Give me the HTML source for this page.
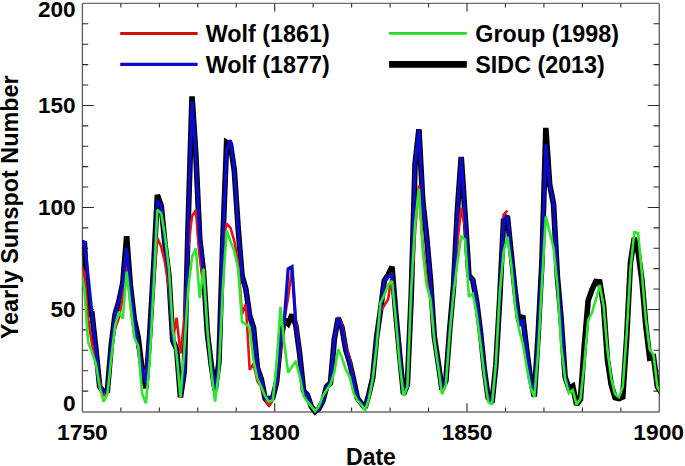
<!DOCTYPE html>
<html><head><meta charset="utf-8"><style>
html,body{margin:0;padding:0;background:#fff;}
svg{display:block;}
text{font-family:"Liberation Sans",sans-serif;font-weight:bold;fill:#000;}
</style></head><body>
<svg width="685" height="466" viewBox="0 0 685 466">
<rect width="685" height="466" fill="#fff"/>
<defs><clipPath id="c"><rect x="82.4" y="-20" width="576.90" height="500"/></clipPath></defs>
<path d="M82.4,412.0 H659.3 M82.4,3.4 H659.3" stroke="#6e6e6e" stroke-width="1.4" fill="none"/>
<path d="M82.4,3.4 V412.0 M659.3,3.4 V412.0" stroke="#5c5c5c" stroke-width="1.3" fill="none"/>
<path d="M120.86,411.50 V407.40 M120.86,3.40 V7.50 M159.32,411.50 V407.40 M159.32,3.40 V7.50 M197.78,411.50 V407.40 M197.78,3.40 V7.50 M236.24,411.50 V407.40 M236.24,3.40 V7.50 M274.70,411.50 V403.30 M274.70,3.40 V11.60 M313.16,411.50 V407.40 M313.16,3.40 V7.50 M351.62,411.50 V407.40 M351.62,3.40 V7.50 M390.08,411.50 V407.40 M390.08,3.40 V7.50 M428.54,411.50 V407.40 M428.54,3.40 V7.50 M467.00,411.50 V403.30 M467.00,3.40 V11.60 M505.46,411.50 V407.40 M505.46,3.40 V7.50 M543.92,411.50 V407.40 M543.92,3.40 V7.50 M582.38,411.50 V407.40 M582.38,3.40 V7.50 M620.84,411.50 V407.40 M620.84,3.40 V7.50 M82.40,391.10 H88.20 M659.30,391.10 H653.50 M82.40,370.69 H88.20 M659.30,370.69 H653.50 M82.40,350.28 H88.20 M659.30,350.28 H653.50 M82.40,329.88 H88.20 M659.30,329.88 H653.50 M82.40,309.48 H93.90 M659.30,309.48 H647.80 M82.40,289.07 H88.20 M659.30,289.07 H653.50 M82.40,268.66 H88.20 M659.30,268.66 H653.50 M82.40,248.26 H88.20 M659.30,248.26 H653.50 M82.40,227.85 H88.20 M659.30,227.85 H653.50 M82.40,207.45 H93.90 M659.30,207.45 H647.80 M82.40,187.04 H88.20 M659.30,187.04 H653.50 M82.40,166.64 H88.20 M659.30,166.64 H653.50 M82.40,146.24 H88.20 M659.30,146.24 H653.50 M82.40,125.83 H88.20 M659.30,125.83 H653.50 M82.40,105.43 H93.90 M659.30,105.43 H647.80 M82.40,85.02 H88.20 M659.30,85.02 H653.50 M82.40,64.62 H88.20 M659.30,64.62 H653.50 M82.40,44.21 H88.20 M659.30,44.21 H653.50 M82.40,23.81 H88.20 M659.30,23.81 H653.50" stroke="#2a2a2a" stroke-width="1.1" fill="none"/>
<g clip-path="url(#c)" fill="none" stroke-linejoin="miter" stroke-miterlimit="2">
<path d="M80.48,246.42 L84.32,241.32 L88.17,314.17 L92.02,313.96 L95.86,348.86 L99.71,386.61 L103.55,391.91 L107.40,390.69 L111.25,345.39 L115.09,314.37 L118.94,301.31 L122.78,283.15 L126.63,236.22 L130.48,286.62 L134.32,319.47 L138.17,337.23 L142.01,368.85 L145.86,388.24 L149.71,334.37 L153.55,269.07 L157.40,195.00 L161.24,205.82 L165.09,245.00 L168.94,275.81 L172.78,340.49 L176.63,349.06 L180.47,397.22 L184.32,371.10 L188.17,222.75 L192.01,96.45 L195.86,154.60 L199.70,238.47 L203.55,272.54 L207.40,332.94 L211.24,364.98 L215.09,390.69 L218.93,362.32 L222.78,242.34 L226.62,142.15 L230.47,144.40 L234.32,170.52 L238.16,228.06 L242.01,275.60 L245.86,289.07 L249.70,315.80 L253.55,327.84 L257.39,368.04 L261.24,378.85 L265.09,398.44 L268.93,403.13 L272.78,397.62 L276.62,381.91 L280.47,342.12 L284.31,319.68 L288.16,323.55 L292.01,314.58 L295.85,325.39 L299.70,354.16 L303.55,390.89 L307.39,394.97 L311.24,406.40 L315.08,411.50 L318.93,408.64 L322.77,401.30 L326.62,386.61 L330.47,383.14 L334.31,339.27 L338.16,318.05 L342.00,327.64 L345.85,350.08 L349.70,362.73 L353.54,379.67 L357.39,398.03 L361.24,403.34 L365.08,407.83 L368.93,394.16 L372.77,377.63 L376.62,337.43 L380.47,310.29 L384.31,280.50 L388.16,274.79 L392.00,266.83 L395.85,313.96 L399.70,355.39 L403.54,394.16 L407.39,384.57 L411.23,295.40 L415.08,163.58 L418.92,129.30 L422.77,200.92 L426.62,236.63 L430.46,279.68 L434.31,336.61 L438.15,362.12 L442.00,389.67 L445.85,380.89 L449.69,329.68 L453.54,286.01 L457.38,210.51 L461.23,157.05 L465.08,215.00 L468.92,275.60 L472.77,279.89 L476.62,301.11 L480.46,331.92 L484.31,369.47 L488.15,397.83 L492.00,402.73 L495.85,365.18 L499.69,299.68 L503.54,220.10 L507.38,216.02 L511.23,253.97 L515.08,290.91 L518.92,321.72 L522.77,315.60 L526.61,349.26 L530.46,378.24 L534.30,396.60 L538.15,334.78 L542.00,260.50 L545.84,127.87 L549.69,184.60 L553.53,204.19 L557.38,276.42 L561.23,320.29 L565.07,376.81 L568.92,388.44 L572.76,386.20 L576.61,404.56 L580.46,399.26 L584.30,345.59 L588.15,300.70 L592.00,289.68 L595.84,281.52 L599.69,281.93 L603.53,304.99 L607.38,359.67 L611.23,384.77 L615.07,397.62 L618.92,398.64 L622.76,397.01 L626.61,338.86 L630.45,262.54 L634.30,237.85 L638.15,252.34 L641.99,280.91 L645.84,326.21 L649.68,358.04 L653.53,357.02 L657.38,386.81 L661.22,392.12 L665.07,405.99" stroke="#000" stroke-width="5.6"/>
<path d="M80.48,264.58 L84.32,272.75 L88.17,319.68 L92.02,344.16 L95.86,360.49 L99.71,380.89 L103.55,395.99 L107.40,391.50 L111.25,349.26 L115.09,328.86 L118.94,317.64 L122.78,297.23 L126.63,262.54 L130.48,305.39 L134.32,336.00 L138.17,344.16 L142.01,368.65 L145.86,374.77 L149.71,336.00 L153.55,284.99 L157.40,238.06 L161.24,246.83 L165.09,262.95 L168.94,289.07 L172.78,340.08 L176.63,317.64 L180.47,353.55 L184.32,319.68 L188.17,248.26 L192.01,216.22 L195.86,209.90 L199.70,257.03 L203.55,284.99 L207.40,329.88 L211.24,366.61 L215.09,391.10 L218.93,362.53 L222.78,242.55 L226.62,223.57 L230.47,227.85 L234.32,241.12 L238.16,262.95 L242.01,314.17 L245.86,303.97 L249.70,369.67 L253.55,363.75 L257.39,381.30 L261.24,387.01 L265.09,398.85 L268.93,406.19 L272.78,398.85 L276.62,382.93 L280.47,350.28 L284.31,319.68 L288.16,297.23 L292.01,268.66 L295.85,319.68 L299.70,354.37 L303.55,391.10 L307.39,395.18 L311.24,406.40 L315.08,411.50 L318.93,408.64 L322.77,401.30 L326.62,387.01 L330.47,382.93 L334.31,340.08 L338.16,317.02 L342.00,324.37 L345.85,346.20 L349.70,358.45 L353.54,379.67 L357.39,398.03 L361.24,403.34 L365.08,407.83 L368.93,394.16 L372.77,377.63 L376.62,338.04 L380.47,311.52 L384.31,305.39 L388.16,299.27 L392.00,272.75 L395.85,313.96 L399.70,355.39 L403.54,394.16 L407.39,384.57 L411.23,295.40 L415.08,231.94 L418.92,185.41 L422.77,245.40 L426.62,278.87 L430.46,299.27 L434.31,336.61 L438.15,362.12 L442.00,389.67 L445.85,380.89 L449.69,329.68 L453.54,286.01 L457.38,242.55 L461.23,207.65 L465.08,227.85 L468.92,276.83 L472.77,279.89 L476.62,301.11 L480.46,331.92 L484.31,369.47 L488.15,397.83 L492.00,402.73 L495.85,365.18 L499.69,299.68 L503.54,214.80 L507.38,210.71" stroke="#e41414" stroke-width="2.6"/>
<path d="M80.48,246.42 L84.32,241.32 L88.17,276.83 L92.02,313.96 L95.86,348.86 L99.71,386.61 L103.55,391.91 L107.40,390.69 L111.25,345.39 L115.09,314.37 L118.94,301.31 L122.78,283.15 L126.63,248.26 L130.48,286.62 L134.32,319.47 L138.17,348.24 L142.01,368.65 L145.86,382.93 L149.71,334.37 L153.55,269.07 L157.40,200.31 L161.24,205.82 L165.09,245.00 L168.94,275.81 L172.78,340.49 L176.63,349.06 L180.47,397.22 L184.32,371.10 L188.17,222.75 L192.01,101.34 L195.86,154.60 L199.70,238.47 L203.55,272.54 L207.40,332.94 L211.24,364.98 L215.09,390.69 L218.93,362.32 L222.78,242.34 L226.62,150.32 L230.47,140.11 L234.32,170.52 L238.16,228.06 L242.01,275.60 L245.86,289.07 L249.70,315.80 L253.55,327.84 L257.39,368.04 L261.24,378.85 L265.09,398.44 L268.93,397.22 L272.78,397.62 L276.62,381.91 L280.47,342.12 L284.31,319.68 L288.16,268.66 L292.01,266.62 L295.85,325.39 L299.70,354.16 L303.55,390.89 L307.39,394.97 L311.24,406.40 L315.08,411.50 L318.93,408.64 L322.77,401.30 L326.62,386.61 L330.47,383.14 L334.31,339.27 L338.16,318.05 L342.00,327.64 L345.85,350.08 L349.70,362.73 L353.54,379.67 L357.39,398.03 L361.24,403.34 L365.08,407.83 L368.93,394.16 L372.77,377.63 L376.62,337.43 L380.47,310.29 L384.31,280.50 L388.16,276.83 L392.00,274.79 L395.85,313.96 L399.70,355.39 L403.54,394.16 L407.39,384.57 L411.23,295.40 L415.08,163.58 L418.92,129.30 L422.77,200.92 L426.62,236.63 L430.46,279.68 L434.31,336.61 L438.15,362.12 L442.00,389.67 L445.85,380.89 L449.69,329.68 L453.54,286.01 L457.38,210.51 L461.23,157.05 L465.08,215.00 L468.92,275.60 L472.77,279.89 L476.62,301.11 L480.46,331.92 L484.31,369.47 L488.15,397.83 L492.00,402.73 L495.85,365.18 L499.69,299.68 L503.54,220.10 L507.38,216.02 L511.23,253.97 L515.08,290.91 L518.92,325.80 L522.77,319.68 L526.61,349.26 L530.46,378.24 L534.30,396.60 L538.15,334.78 L542.00,260.50 L545.84,144.19 L549.69,184.60 L553.53,204.19 L557.38,276.42 L561.23,320.29 L565.07,376.81 L568.92,388.44" stroke="#0a0ad0" stroke-width="3.2"/>
<path d="M80.48,268.66 L84.32,289.07 L88.17,342.12 L92.02,352.33 L95.86,363.75 L99.71,387.01 L103.55,401.71 L107.40,394.36 L111.25,358.45 L115.09,325.80 L118.94,311.52 L122.78,318.66 L126.63,271.73 L130.48,305.39 L134.32,337.43 L138.17,346.20 L142.01,393.14 L145.86,403.34 L149.71,360.90 L153.55,287.85 L157.40,209.69 L161.24,213.37 L165.09,236.63 L168.94,268.66 L172.78,329.88 L176.63,354.98 L180.47,397.22 L184.32,349.26 L188.17,289.07 L192.01,257.03 L195.86,248.26 L199.70,298.05 L203.55,268.66 L207.40,329.88 L211.24,370.69 L215.09,401.71 L218.93,370.69 L222.78,289.07 L226.62,230.71 L230.47,241.12 L234.32,251.32 L238.16,268.66 L242.01,321.72 L245.86,324.37 L249.70,327.23 L253.55,360.90 L257.39,378.44 L261.24,387.01 L265.09,395.99 L268.93,401.71 L272.78,400.28 L276.62,363.75 L280.47,306.82 L284.31,343.35 L288.16,372.53 L292.01,366.61 L295.85,360.90 L299.70,376.81 L303.55,395.99 L307.39,401.71 L311.24,406.19 L315.08,411.09 L318.93,406.19 L322.77,395.99 L326.62,390.07 L330.47,384.16 L334.31,372.53 L338.16,349.26 L342.00,358.04 L345.85,369.67 L349.70,376.81 L353.54,393.14 L357.39,400.28 L361.24,404.56 L365.08,410.48 L368.93,398.85 L372.77,378.44 L376.62,346.20 L380.47,302.54 L384.31,295.19 L388.16,284.99 L392.00,280.91 L395.85,320.09 L399.70,363.75 L403.54,395.99 L407.39,387.01 L411.23,289.07 L415.08,223.77 L418.92,188.88 L422.77,251.32 L426.62,284.99 L430.46,299.27 L434.31,340.08 L438.15,366.61 L442.00,394.16 L445.85,384.97 L449.69,333.96 L453.54,293.15 L457.38,262.95 L461.23,236.63 L465.08,239.49 L468.92,296.62 L472.77,293.76 L476.62,314.17 L480.46,343.35 L484.31,375.38 L488.15,401.71 L492.00,404.56 L495.85,363.75 L499.69,293.76 L503.54,252.34 L507.38,236.63 L511.23,264.58 L515.08,305.39 L518.92,328.86 L522.77,343.35 L526.61,366.61 L530.46,387.01 L534.30,397.22 L538.15,352.33 L542.00,282.13 L545.84,216.22 L549.69,231.94 L553.53,248.26 L557.38,284.99 L561.23,346.20 L565.07,378.44 L568.92,393.14 L572.76,390.07 L576.61,404.56 L580.46,398.85 L584.30,363.75 L588.15,320.09 L592.00,312.74 L595.84,299.48 L599.69,284.99 L603.53,305.39 L607.38,349.26 L611.23,378.44 L615.07,394.36 L618.92,397.22 L622.76,387.01 L626.61,334.57 L630.45,268.66 L634.30,232.34 L638.15,232.96 L641.99,274.79 L645.84,319.68 L649.68,349.26 L653.53,354.98 L657.38,387.01 L661.22,393.14 L665.07,405.38" stroke="#2ee62e" stroke-width="2.6"/>
</g>
<g font-size="22.6" text-anchor="end">
<text x="75.6" y="16.6">200</text>
<text x="75.6" y="112.9">150</text>
<text x="75.6" y="214.7">100</text>
<text x="75.6" y="317.4">50</text>
<text x="75.6" y="410.9">0</text>
</g>
<g font-size="22.8" text-anchor="middle">
<text x="82.4" y="440.3">1750</text>
<text x="274.7" y="440.3">1800</text>
<text x="467.0" y="440.3">1850</text>
<text x="658.7" y="440.3">1900</text>
<text x="371" y="465" font-size="23">Date</text>
</g>
<text transform="translate(18.2,207.3) rotate(-90)" text-anchor="middle" font-size="23.4">Yearly Sunspot Number</text>
<path d="M120.2,33.5 H197.6" stroke="#d40c0c" stroke-width="2.8"/>
<path d="M120.2,64.4 H197.6" stroke="#0a0ad0" stroke-width="3.2"/>
<path d="M389.1,33.4 H466.8" stroke="#2ad82a" stroke-width="2.8"/>
<path d="M389.1,64.4 H466.8" stroke="#000" stroke-width="6.6"/>
<g font-size="23.3">
<text x="205.8" y="41.6">Wolf (1861)</text>
<text x="205.8" y="72.6">Wolf (1877)</text>
<text x="475.3" y="42">Group (1998)</text>
<text x="475.3" y="73">SIDC (2013)</text>
</g>
</svg>
</body></html>
